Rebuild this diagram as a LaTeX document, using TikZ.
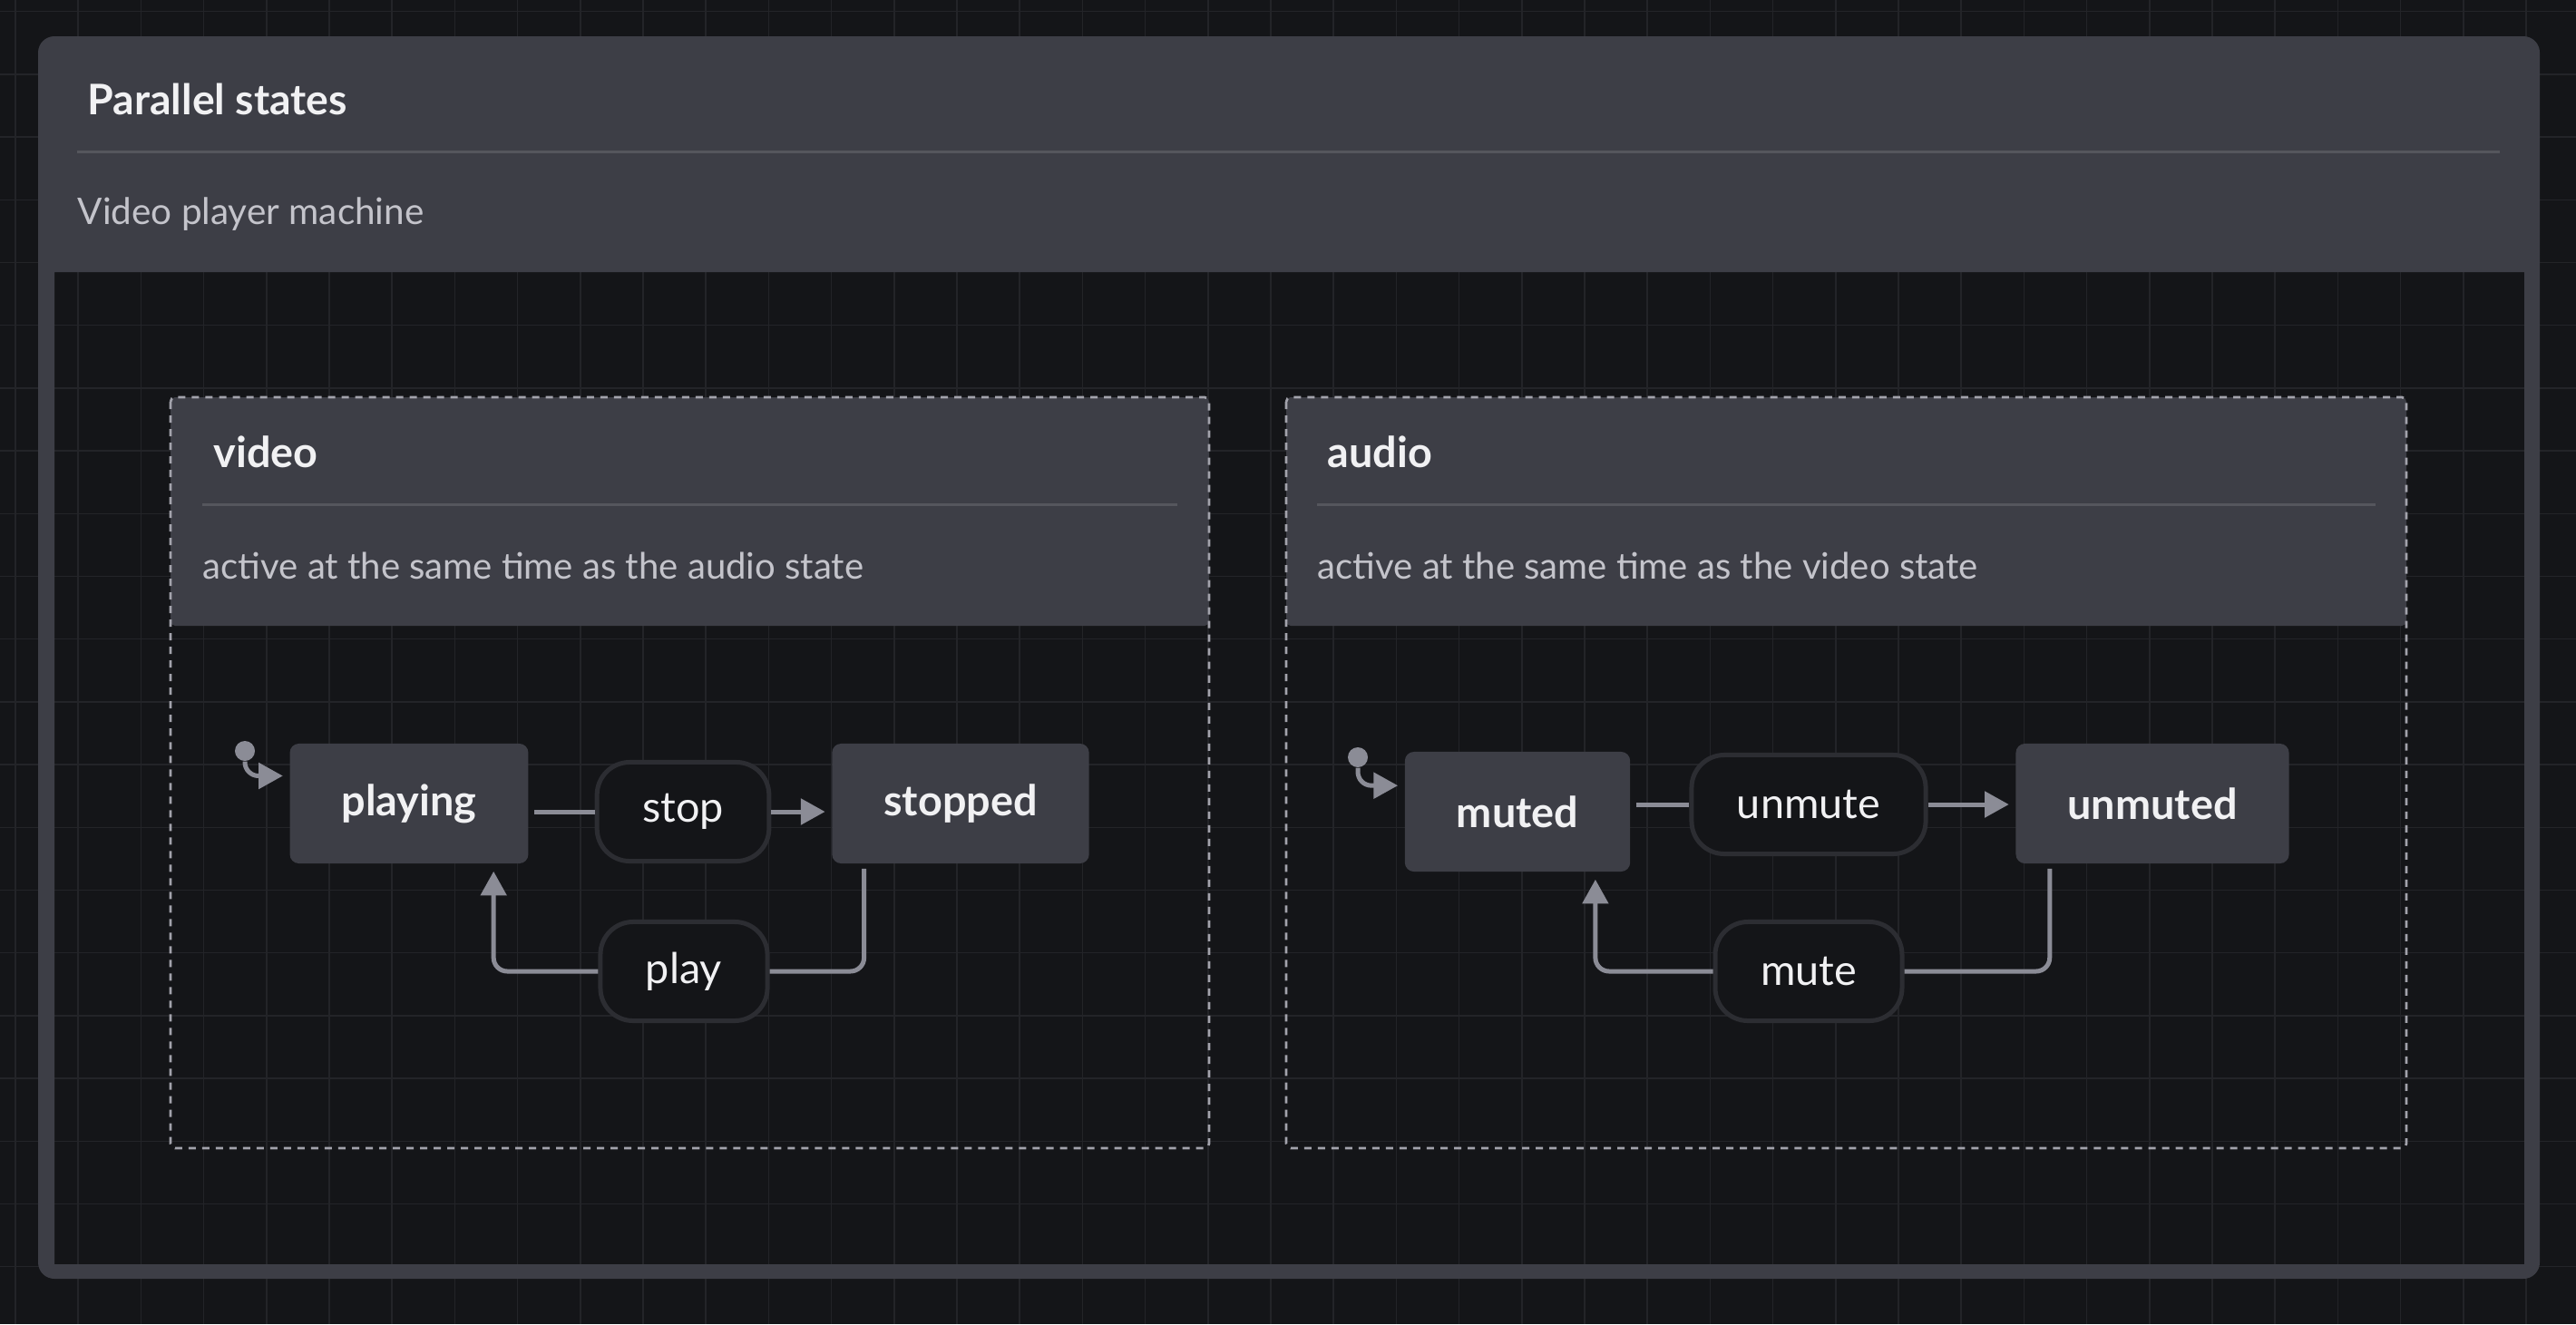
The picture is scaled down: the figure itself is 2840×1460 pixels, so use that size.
\documentclass[tikz,border=0pt]{standalone}
\usepackage{fontspec}
\setmainfont{Lato}
\usetikzlibrary{arrows.meta,calc}
\definecolor{bgdark}{HTML}{141518}
\definecolor{gridc}{HTML}{232428}
\definecolor{cardgray}{HTML}{3D3E46}
\definecolor{sepgray}{HTML}{55565D}
\definecolor{txtlight}{HTML}{F1F1F3}
\definecolor{txtdim}{HTML}{C4C4CB}
\definecolor{pillrim}{HTML}{2C2D32}
\definecolor{arrgray}{HTML}{8B8C96}
\definecolor{dashgray}{HTML}{A3A3AC}
\tikzset{
	statebox/.style={fill=cardgray, rounded corners=0.1cm, inner xsep=0.57cm, minimum height=1.32cm, text=txtlight, font=\fontsize{13.3}{16}\selectfont\bfseries},
	eventpill/.style={fill=bgdark, draw=pillrim, line width=0.05cm, rounded corners=0.36cm, inner xsep=0.5cm, minimum height=1.09cm, text=txtlight, font=\fontsize{13.3}{16}\selectfont},
	initdot/.style={circle, fill=arrgray, inner sep=0pt, minimum size=0.22cm},
	link/.style={draw=arrgray, line width=0.05cm, rounded corners=0.15cm},
	linkarr/.style={link, -{Triangle[length=7.6pt,width=8pt]}},
	headtitle/.style={anchor=base west, inner sep=0pt, text=txtlight, font=\fontsize{13.2}{16}\selectfont\bfseries},
	headnote/.style={anchor=base west, inner sep=0pt, text=txtdim, font=\fontsize{11.5}{14}\selectfont},
	regionbox/.style={draw=dashgray, line width=0.027cm, dash pattern=on 0.08cm off 0.07cm, rounded corners=0.05cm}
}
\begin{document}
\begin{tikzpicture}[x=0.01cm, y=-0.01cm]
	\fill[bgdark] (0,0) rectangle (2840,1460);
	\useasboundingbox (0,0) rectangle (2840,1460);
	\foreach \i in {0,...,40} \draw[gridc, line width=0.015cm] ({17+69.2*\i},0) -- ++(0,1460);
	\foreach \j in {0,...,20} \draw[gridc, line width=0.015cm] (0,{12.7+69.2*\j}) -- ++(2840,0);
	\fill[cardgray, even odd rule, rounded corners=0.18cm] (42,40) rectangle (2800,1410) [sharp corners] (60,300) rectangle (2783,1394);
	\node[headtitle] (machine) at (96,126) {Parallel states};
	\draw[sepgray, line width=0.03cm] (85,167) -- (2756,167);
	\node[headnote] (machinenote) at (85,247) {Video player machine};
	\fill[cardgray, rounded corners=0.05cm] (188,438) rectangle (1333,690);
	\draw[regionbox] (188,438) rectangle (1333,1266);
	\node[headtitle, font=\fontsize{13.3}{16}\selectfont\bfseries] (video) at (235,515) {video};
	\draw[sepgray, line width=0.03cm] (223,556) -- (1298,556);
	\node[headnote, font=\fontsize{11.4}{14}\selectfont] (videonote) at (223,638) {active at the same time as the audio state};
	\fill[cardgray, rounded corners=0.05cm] (1418,438) rectangle (2653,690);
	\draw[regionbox] (1418,438) rectangle (2653,1266);
	\node[headtitle, font=\fontsize{13.3}{16}\selectfont\bfseries] (audio) at (1463,515) {audio};
	\draw[sepgray, line width=0.03cm] (1452,556) -- (2619,556);
	\node[headnote, font=\fontsize{11.4}{14}\selectfont] (audionote) at (1452,638) {active at the same time as the video state};
	\node[statebox] (playing) at (451,886) {playing};
	\node[statebox] (stopped) at (1059,886) {stopped};
	\node[eventpill] (stop) at (753,895) {stop};
	\node[eventpill] (play) at (754,1071) {play};
	\node[initdot] (vinit) at (270,828) {};
	\draw[linkarr, shorten >=2pt] (vinit) |- (playing.167);
	\draw[link, shorten <=1.7pt] (playing.east |- stop.west) -- (stop.west);
	\draw[linkarr, shorten >=2pt] (stop.east) -- (stopped.west |- stop.east);
	\draw[link] ($(stopped.south west)+(36,5)$) |- (play.east);
	\draw[linkarr] (play.west) -| ($(playing.south east)+(-39,8)$);
	\node[statebox] (muted) at (1673,895) {muted};
	\node[statebox] (unmuted) at (2373,886) {unmuted};
	\node[eventpill] (unmute) at (1994,887) {unmute};
	\node[eventpill] (mute) at (1994,1071) {mute};
	\node[initdot] (ainit) at (1497,835) {};
	\draw[linkarr, shorten >=2pt] (ainit) |- (muted.167);
	\draw[link, shorten <=1.7pt] (muted.east |- unmute.west) -- (unmute.west);
	\draw[linkarr, shorten >=2pt] (unmute.east) -- (unmuted.west |- unmute.east);
	\draw[link] ($(unmuted.south west)+(38,5)$) |- (mute.east);
	\draw[linkarr] (mute.west) -| ($(muted.south east)+(-39,8)$);
\end{tikzpicture}
\end{document}
